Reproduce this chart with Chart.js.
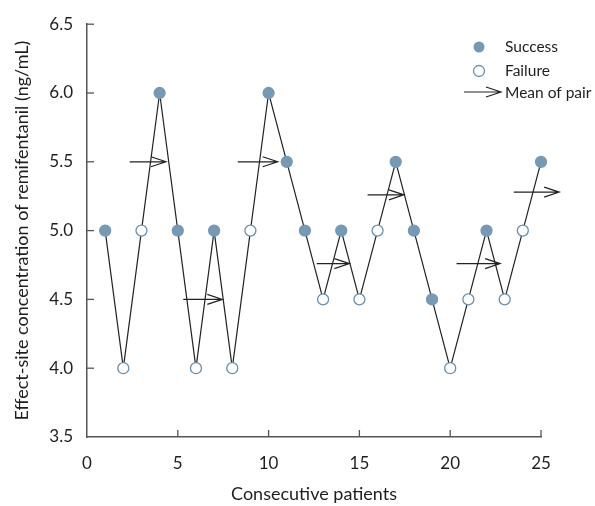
<!DOCTYPE html>
<html>
<head>
<meta charset="utf-8">
<script src="https://cdn.jsdelivr.net/npm/chart.js@4/dist/chart.umd.min.js"></script>
<style>
    html, body { margin: 0; padding: 0; background: #fff; }
    #wrap { width: 595px; height: 506px; }
</style>
</head>
<body>
<div id="wrap"><canvas id="canvasUpDown"></canvas></div>
<script>
// data
const patients = [1, 2, 3, 4, 5, 6, 7, 8, 9, 10, 11, 12, 13, 14, 15, 16, 17, 18, 19, 20, 21, 22, 23, 24, 25]
const concentration = [5.0, 4.0, 5.0, 6.0, 5.0, 4.0, 5.0, 4.0, 5.0, 6.0, 5.5, 5.0, 4.5, 5.0, 4.5, 5.0, 5.5, 5.0, 4.5, 4.0, 4.5, 5.0, 4.5, 5.0, 5.5]
const outcome = ['S', 'F', 'F', 'S', 'S', 'F', 'S', 'F', 'F', 'S', 'S', 'S', 'F', 'S', 'F', 'F', 'S', 'S', 'S', 'F', 'F', 'S', 'F', 'F', 'S']

// "mean of pair" arrows
const pairStart = [2.35, 5.3, 8.3, 12.65, 15.45, 20.35, 23.5]
const pairEnd = [4.35, 7.45, 10.5, 14.45, 17.45, 22.75, 26.0]
const pairMean = [5.5, 4.5, 5.5, 4.76, 5.26, 4.76, 5.28]

const xTicks = [0, 5, 10, 15, 20, 25]
const yTicks = [3.5, 4.0, 4.5, 5.0, 5.5, 6.0, 6.5]

const legendLabels = ['Success', 'Failure', 'Mean of pair']

const FONT = 'Lato, "Open Sans", sans-serif'
const TXT = '#1e1e1e'
const AXIS = '#555'
const BLUE = '#7799b4'
const BLUE_EDGE = '#6a90ae'

function drawArrow(ctx, x0, x1, yy, head) {
    ctx.beginPath()
    ctx.moveTo(x0, yy)
    ctx.lineTo(x1, yy)
    ctx.moveTo(x1 - head, yy - 5)
    ctx.lineTo(x1, yy)
    ctx.lineTo(x1 - head, yy + 5)
    ctx.stroke()
}

const extras = {
    id: 'extras',
    afterDatasetsDraw(chart) {
        const { ctx, scales: { x, y } } = chart
        ctx.save()

        // inward tick marks
        ctx.strokeStyle = AXIS
        ctx.lineWidth = 1.3
        xTicks.slice(1).forEach(t => {
            const px = x.getPixelForValue(t)
            ctx.beginPath()
            ctx.moveTo(px, y.bottom)
            ctx.lineTo(px, y.bottom - 7)
            ctx.stroke()
        })
        yTicks.slice(1).forEach(t => {
            const py = y.getPixelForValue(t)
            ctx.beginPath()
            ctx.moveTo(x.left, py)
            ctx.lineTo(x.left + 7, py)
            ctx.stroke()
        })

        // mean of pair arrows
        ctx.strokeStyle = '#222'
        ctx.lineWidth = 1.2
        pairMean.forEach((m, i) => {
            drawArrow(ctx, x.getPixelForValue(pairStart[i]), x.getPixelForValue(pairEnd[i]), y.getPixelForValue(m), 15)
        })

        // legend
        ctx.font = '15.5px ' + FONT
        ctx.textBaseline = 'middle'
        ctx.textAlign = 'left'

        ctx.beginPath()
        ctx.arc(479, 47, 5.5, 0, Math.PI * 2)
        ctx.fillStyle = BLUE
        ctx.fill()

        ctx.beginPath()
        ctx.arc(479, 71, 5.5, 0, Math.PI * 2)
        ctx.fillStyle = '#fff'
        ctx.fill()
        ctx.strokeStyle = BLUE_EDGE
        ctx.lineWidth = 1.3
        ctx.stroke()

        ctx.strokeStyle = '#222'
        ctx.lineWidth = 1.2
        drawArrow(ctx, 464, 501, 92, 15)

        ctx.fillStyle = TXT
        ctx.fillText(legendLabels[0], 505, 47)
        ctx.fillText(legendLabels[1], 505, 71)
        ctx.fillText(legendLabels[2], 505, 93)

        ctx.restore()
    }
}

const points = patients.map((p, i) => ({ x: p, y: concentration[i] }))

new Chart(document.getElementById('canvasUpDown').getContext('2d'), {
    type: 'scatter',
    data: {
        datasets: [{
            label: 'Concentration',
            data: points,
            showLine: true,
            clip: false,
            borderColor: '#222',
            borderWidth: 1.2,
            tension: 0,
            pointRadius: 5.5,
            pointBorderWidth: 1.3,
            pointBackgroundColor: outcome.map(o => o == 'S' ? BLUE : '#fff'),
            pointBorderColor: outcome.map(o => o == 'S' ? BLUE : BLUE_EDGE)
        }]
    },
    options: {
        responsive: true,
        maintainAspectRatio: false,
        animation: false,
        layout: { padding: { top: 20, right: 54, left: 0, bottom: 0 } },
        plugins: {
            legend: { display: false },
            tooltip: { enabled: false }
        },
        scales: {
            x: {
                type: 'linear',
                min: 0,
                max: 25,
                afterFit: s => { s.height = 69 },
                afterBuildTicks: s => { s.ticks = xTicks.map(v => ({ value: v })) },
                grid: { display: false, drawTicks: false },
                border: { color: AXIS, width: 1.5 },
                ticks: { color: TXT, font: { size: 17, family: FONT }, padding: 16 },
                title: {
                    display: true,
                    text: 'Consecutive patients',
                    color: TXT,
                    font: { size: 18, family: FONT },
                    padding: { top: 0, bottom: 1 }
                }
            },
            y: {
                type: 'linear',
                min: 3.5,
                max: 6.5,
                afterFit: s => { s.width = 87 },
                afterBuildTicks: s => { s.ticks = yTicks.map(v => ({ value: v })) },
                grid: { display: false, drawTicks: false },
                border: { color: AXIS, width: 1.5 },
                ticks: {
                    color: TXT,
                    font: { size: 17, family: FONT },
                    padding: 14,
                    callback: v => v.toFixed(1)
                },
                title: {
                    display: true,
                    text: 'Effect-site concentration of remifentanil (ng/mL)',
                    color: TXT,
                    font: { size: 18, family: FONT },
                    padding: { top: 11, bottom: 0 }
                }
            }
        }
    },
    plugins: [extras]
})
</script>
</body>
</html>
